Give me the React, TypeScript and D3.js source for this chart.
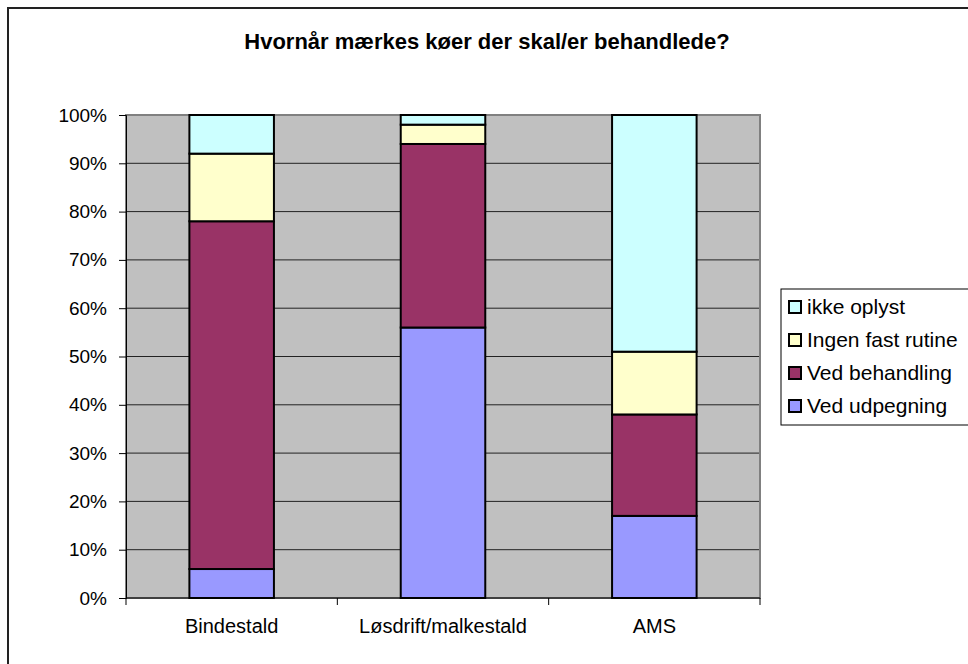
import React, { useEffect, useRef } from 'react';
import * as d3 from 'd3';

const categories = ['Bindestald', 'Løsdrift/malkestald', 'AMS'];
const seriesNames = ['Ved udpegning', 'Ved behandling', 'Ingen fast rutine', 'ikke oplyst'];
const udpegning = [6, 56, 17];
const behandling = [72, 38, 21];
const ingenRutine = [14, 4, 13];
const ikkeOplyst = [8, 2, 49];
const yTicks = [0, 10, 20, 30, 40, 50, 60, 70, 80, 90, 100];
const colors = ['#9999FF', '#993366', '#FFFFCC', '#CCFFFF'];

const App = () => {
  const svgRef = useRef<SVGSVGElement>(null);

  useEffect(() => {
    if (!svgRef.current) return;
    const svg = d3.select(svgRef.current);
    svg.selectAll('*').remove();

    const width = 968;
    const height = 664;
    const font = 'Arial, "Liberation Sans", sans-serif';
    const plot = { left: 126, top: 115, right: 760, bottom: 598 };

    // outer chart frame (cut off on right/bottom)
    svg.append('rect')
      .attr('x', 8).attr('y', 8)
      .attr('width', width + 20).attr('height', height + 20)
      .attr('fill', '#fff').attr('stroke', '#222').attr('stroke-width', 2);

    svg.append('text')
      .attr('x', 487).attr('y', 49)
      .attr('text-anchor', 'middle')
      .style('font-family', font).style('font-size', '22px').style('font-weight', 'bold')
      .text('Hvornår mærkes køer der skal/er behandlede?');

    const x = d3.scaleBand<string>()
      .domain(categories)
      .range([plot.left, plot.right])
      .paddingInner(0.6)
      .paddingOuter(0.3);
    const band = d3.scaleBand<string>().domain(categories).range([plot.left, plot.right]);
    const y = d3.scaleLinear().domain([0, 100]).range([plot.bottom, plot.top]);

    svg.append('rect')
      .attr('x', plot.left).attr('y', plot.top)
      .attr('width', plot.right - plot.left).attr('height', plot.bottom - plot.top)
      .attr('fill', '#C0C0C0');

    svg.append('g')
      .selectAll('line')
      .data(yTicks.slice(1, -1))
      .join('line')
      .attr('x1', plot.left).attr('x2', plot.right)
      .attr('y1', d => y(d)).attr('y2', d => y(d))
      .attr('stroke', '#222').attr('stroke-width', 1);

    svg.append('rect')
      .attr('x', plot.left).attr('y', plot.top)
      .attr('width', plot.right - plot.left).attr('height', plot.bottom - plot.top)
      .attr('fill', 'none').attr('stroke', '#808080').attr('stroke-width', 2);

    // y axis
    const yAxis = svg.append('g')
      .attr('transform', `translate(${plot.left},0)`)
      .call(d3.axisLeft(y).tickValues(yTicks).tickSize(7).tickPadding(12).tickFormat(d => `${d}%`));
    yAxis.select('.domain').attr('stroke', '#000');
    yAxis.selectAll('line').attr('stroke', '#000');
    yAxis.selectAll('text').style('font-family', font).style('font-size', '19px').attr('fill', '#000');

    // x axis
    const xAxis = svg.append('g').attr('transform', `translate(0,${plot.bottom})`);
    xAxis.append('line')
      .attr('x1', plot.left).attr('x2', plot.right)
      .attr('stroke', '#000');
    xAxis.selectAll('.tick')
      .data([...categories.map(c => band(c) as number), plot.right])
      .join('line')
      .attr('x1', d => d).attr('x2', d => d)
      .attr('y1', 0).attr('y2', 7)
      .attr('stroke', '#000');
    xAxis.selectAll('text')
      .data(categories)
      .join('text')
      .attr('x', d => (band(d) as number) + band.bandwidth() / 2)
      .attr('y', 35)
      .attr('text-anchor', 'middle')
      .style('font-family', font).style('font-size', '20px')
      .text(d => d);

    // stacked bars
    const seriesValues = [udpegning, behandling, ingenRutine, ikkeOplyst];
    const rows = categories.map((c, i) => {
      const r: any = { cat: c };
      seriesNames.forEach((s, j) => { r[s] = seriesValues[j][i]; });
      return r;
    });
    const stacked = d3.stack<any>().keys(seriesNames)(rows);

    svg.append('g')
      .selectAll('g')
      .data(stacked)
      .join('g')
      .attr('fill', (_, i) => colors[i])
      .selectAll('rect')
      .data(d => d)
      .join('rect')
      .attr('x', d => x(d.data.cat) as number)
      .attr('y', d => y(d[1]))
      .attr('width', x.bandwidth())
      .attr('height', d => y(d[0]) - y(d[1]))
      .attr('stroke', '#000')
      .attr('stroke-width', 2);

    // legend
    const legend = svg.append('g');
    legend.append('rect')
      .attr('x', 781).attr('y', 289)
      .attr('width', 200).attr('height', 136)
      .attr('fill', '#fff').attr('stroke', '#000').attr('stroke-width', 1);
    const order = [3, 2, 1, 0];
    order.forEach((si, k) => {
      const cy = 307 + k * 33;
      legend.append('rect')
        .attr('x', 789).attr('y', cy - 6)
        .attr('width', 12).attr('height', 12)
        .attr('fill', colors[si]).attr('stroke', '#000').attr('stroke-width', 2);
      legend.append('text')
        .attr('x', 807).attr('y', cy + 7)
        .style('font-family', font).style('font-size', '21px')
        .text(seriesNames[si]);
    });
  }, []);

  return <svg ref={svgRef} width={968} height={664} style={{ position: 'absolute', left: 0, top: 0 }} />;
};

export default App;
